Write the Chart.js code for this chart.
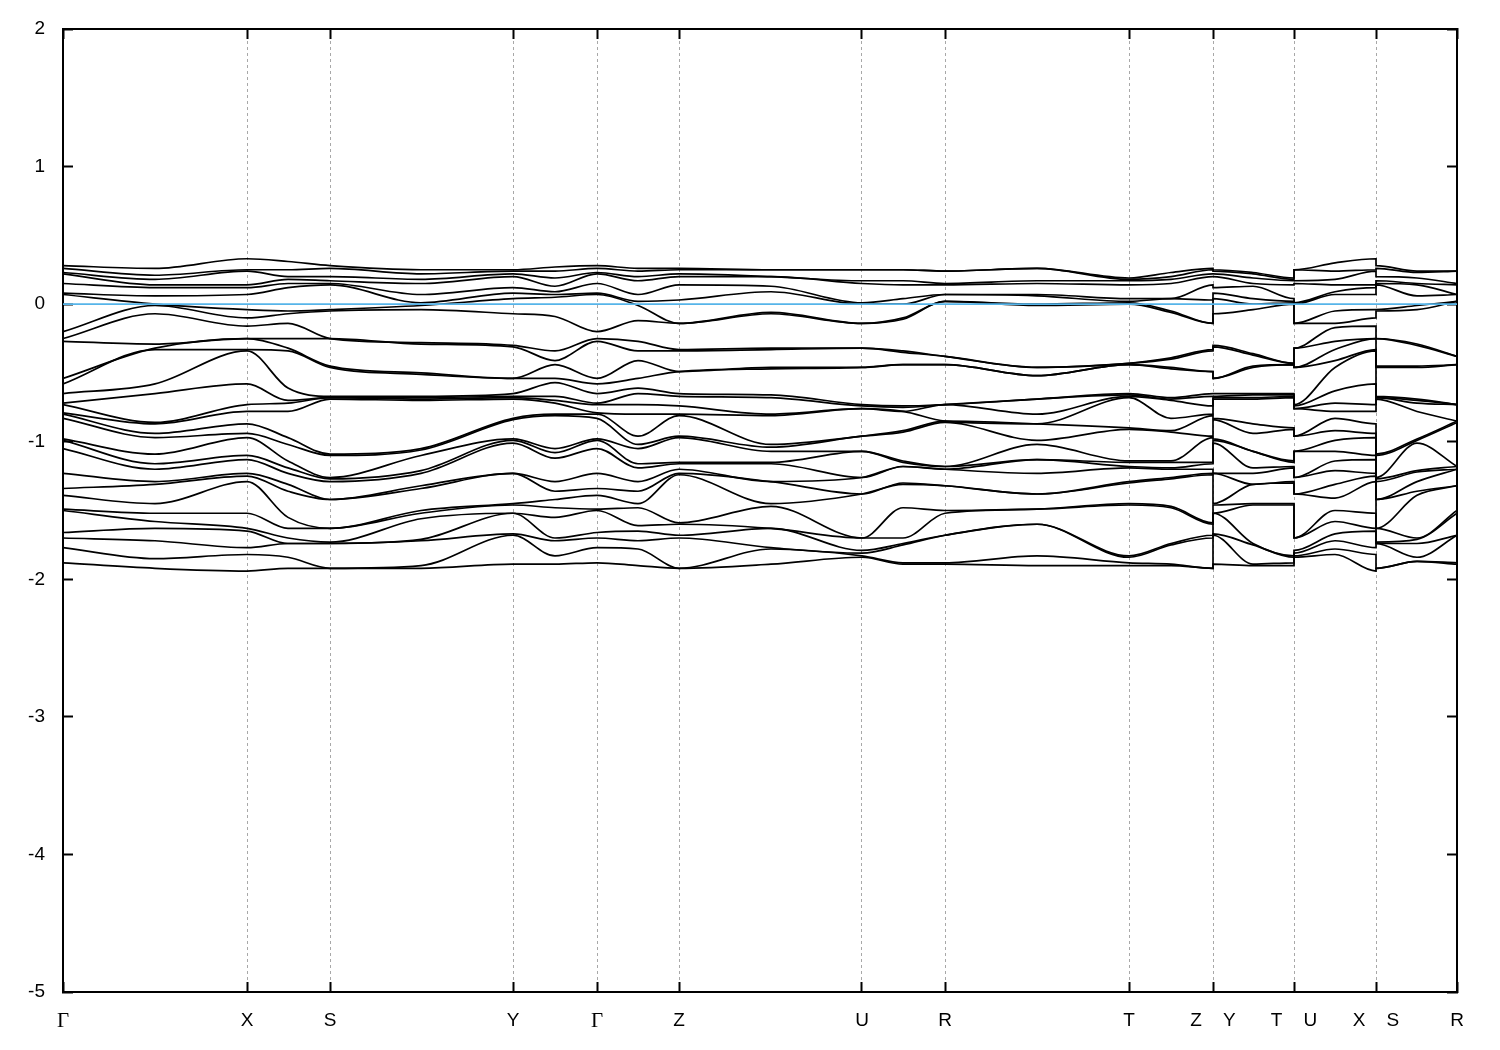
<!DOCTYPE html>
<html>
<head>
<meta charset="utf-8">
<script src="https://cdn.jsdelivr.net/npm/chart.js@4.4.1/dist/chart.umd.min.js"></script>
<style>
  html, body { margin: 0; padding: 0; background: #fff; }
  #wrap { width: 1500px; height: 1050px; }
</style>
</head>
<body>
<div id="wrap"><canvas id="bands" width="1500" height="1050"></canvas></div>
<script>
// k-path: positions of the high-symmetry points and their labels
const kTicks = [0, 184, 267, 450, 534, 616, 799, 882, 1066, 1150, 1231, 1313, 1394];
const kLabels = ["Γ", "X", "S", "Y", "Γ", "Z", "U", "R", "T", "Z    Y", "T    U", "X    S", "R"];
const yTicks = [2, 1, 0, -1, -2, -3, -4, -5];
const fermiLevel = 0;

// band energies (eV) read at each k node, highest first
const eG   = [0.28,0.26,0.23,0.22,0.15,0.08,0.07,-0.20,-0.25,-0.27,-0.54,-0.58,-0.65,-0.72,-0.73,-0.79,-0.80,-0.83,-0.98,-0.99,-1.05,-1.23,-1.34,-1.39,-1.49,-1.50,-1.66,-1.70,-1.77,-1.88];
const eGX  = [0.26,0.21,0.18,0.14,0.12,0.06,0.00,-0.01,-0.07,-0.29,-0.32,-0.33,-0.58,-0.65,-0.86,-0.87,-0.94,-0.97,-1.09,-1.16,-1.20,-1.29,-1.31,-1.45,-1.52,-1.58,-1.63,-1.72,-1.85,-1.92];
const eX   = [0.33,0.25,0.24,0.14,0.12,0.07,-0.04,-0.10,-0.16,-0.25,-0.25,-0.33,-0.34,-0.58,-0.73,-0.78,-0.87,-0.94,-0.97,-1.10,-1.13,-1.23,-1.25,-1.29,-1.52,-1.63,-1.65,-1.77,-1.82,-1.94];
const eXS  = [0.31,0.25,0.20,0.18,0.15,0.12,-0.05,-0.07,-0.14,-0.25,-0.32,-0.34,-0.61,-0.70,-0.72,-0.78,-0.97,-1.02,-1.14,-1.19,-1.23,-1.31,-1.36,-1.55,-1.63,-1.70,-1.74,-1.74,-1.84,-1.92];
const eS   = [0.28,0.26,0.20,0.17,0.15,0.14,-0.04,-0.05,-0.25,-0.25,-0.45,-0.46,-0.67,-0.68,-0.68,-0.69,-1.09,-1.10,-1.26,-1.27,-1.29,-1.42,-1.42,-1.63,-1.63,-1.73,-1.74,-1.74,-1.92,-1.92];
const eSY  = [0.25,0.22,0.18,0.15,0.07,0.01,-0.01,-0.04,-0.28,-0.29,-0.50,-0.51,-0.67,-0.68,-0.69,-0.70,-1.05,-1.06,-1.10,-1.21,-1.23,-1.32,-1.34,-1.50,-1.52,-1.56,-1.71,-1.72,-1.90,-1.92];
const eY   = [0.25,0.24,0.22,0.20,0.12,0.08,0.04,-0.07,-0.30,-0.31,-0.54,-0.54,-0.65,-0.67,-0.68,-0.69,-0.83,-0.84,-0.98,-0.99,-1.01,-1.23,-1.23,-1.45,-1.46,-1.52,-1.52,-1.67,-1.68,-1.89];
const eYG  = [0.27,0.24,0.19,0.13,0.09,0.07,0.05,-0.09,-0.34,-0.41,-0.44,-0.54,-0.57,-0.67,-0.70,-0.72,-0.80,-0.81,-1.05,-1.08,-1.12,-1.29,-1.36,-1.42,-1.48,-1.55,-1.70,-1.72,-1.83,-1.89];
const eGZ  = [0.26,0.24,0.20,0.17,0.07,0.02,-0.01,-0.12,-0.27,-0.34,-0.41,-0.54,-0.61,-0.65,-0.73,-0.80,-0.96,-1.02,-1.05,-1.16,-1.19,-1.29,-1.36,-1.45,-1.48,-1.61,-1.65,-1.72,-1.78,-1.90];
const eZ   = [0.26,0.25,0.22,0.20,0.14,0.03,-0.14,-0.14,-0.33,-0.34,-0.49,-0.49,-0.65,-0.67,-0.74,-0.80,-0.81,-0.96,-0.97,-1.15,-1.16,-1.20,-1.23,-1.24,-1.59,-1.60,-1.68,-1.70,-1.92,-1.92];
const eZU  = [0.25,0.25,0.20,0.20,0.13,0.09,-0.06,-0.07,-0.32,-0.33,-0.46,-0.47,-0.66,-0.68,-0.80,-0.81,-1.02,-1.04,-1.07,-1.15,-1.16,-1.29,-1.29,-1.45,-1.47,-1.63,-1.63,-1.77,-1.78,-1.89];
const eU   = [0.25,0.25,0.17,0.15,0.01,0.00,-0.14,-0.14,-0.32,-0.32,-0.46,-0.46,-0.73,-0.74,-0.76,-0.76,-0.96,-0.96,-1.07,-1.07,-1.26,-1.26,-1.38,-1.38,-1.70,-1.70,-1.79,-1.81,-1.83,-1.84];
const eUR  = [0.25,0.25,0.17,0.14,0.04,0.00,-0.10,-0.11,-0.34,-0.35,-0.44,-0.44,-0.74,-0.75,-0.78,-0.78,-0.92,-0.93,-1.14,-1.15,-1.18,-1.18,-1.30,-1.31,-1.48,-1.70,-1.74,-1.75,-1.88,-1.89];
const eR   = [0.24,0.24,0.15,0.14,0.07,0.07,0.02,0.02,-0.38,-0.38,-0.44,-0.44,-0.73,-0.73,-0.73,-0.85,-0.85,-0.86,-1.18,-1.18,-1.20,-1.20,-1.32,-1.32,-1.50,-1.52,-1.68,-1.68,-1.88,-1.89];
const eRT  = [0.26,0.26,0.17,0.15,0.07,0.06,0.00,-0.01,-0.46,-0.46,-0.52,-0.52,-0.69,-0.69,-0.80,-0.87,-0.87,-0.99,-1.02,-1.13,-1.13,-1.23,-1.38,-1.38,-1.49,-1.49,-1.60,-1.60,-1.83,-1.90];
const eT   = [0.19,0.18,0.17,0.14,0.04,0.02,0.01,0.00,-0.43,-0.43,-0.44,-0.44,-0.65,-0.66,-0.67,-0.68,-0.90,-0.91,-1.14,-1.15,-1.18,-1.19,-1.29,-1.30,-1.45,-1.46,-1.83,-1.84,-1.88,-1.90];
const eTZ  = [0.23,0.20,0.18,0.15,0.04,0.04,-0.05,-0.06,-0.39,-0.40,-0.46,-0.47,-0.68,-0.69,-0.70,-0.83,-0.92,-0.93,-1.14,-1.15,-1.19,-1.20,-1.26,-1.27,-1.47,-1.48,-1.74,-1.75,-1.89,-1.90];
const eYT  = [0.23,0.22,0.19,0.15,0.13,0.04,0.00,-0.04,-0.36,-0.37,-0.45,-0.46,-0.65,-0.66,-0.68,-0.69,-0.87,-0.94,-1.07,-1.07,-1.19,-1.23,-1.31,-1.31,-1.45,-1.46,-1.74,-1.75,-1.89,-1.90];
const eUX  = [0.30,0.24,0.18,0.14,0.09,0.07,-0.05,-0.14,-0.17,-0.27,-0.33,-0.41,-0.46,-0.63,-0.72,-0.78,-0.83,-0.92,-0.99,-1.07,-1.14,-1.21,-1.31,-1.41,-1.50,-1.58,-1.67,-1.72,-1.78,-1.82];
const eSR  = [0.24,0.23,0.19,0.15,0.14,0.06,-0.01,-0.04,-0.29,-0.30,-0.45,-0.46,-0.69,-0.70,-0.72,-0.78,-0.98,-0.99,-1.01,-1.21,-1.22,-1.29,-1.36,-1.39,-1.70,-1.71,-1.74,-1.84,-1.87,-1.87];

// path nodes: distance along the path and which column of energies sits there
const kNodes = [0, 92, 184, 225, 267, 358, 450, 492, 534, 575, 616, 708, 799, 840, 882, 974, 1066, 1108, 1150, 1150, 1190, 1231, 1231, 1272, 1313, 1313, 1354, 1394];
const kColumns = [eG, eGX, eX, eXS, eS, eSY, eY, eYG, eG, eGZ, eZ, eZU, eU, eUR, eR, eRT, eT, eTZ, eZ, eY, eYT, eT, eU, eUX, eX, eS, eSR, eR];

const nBands = eG.length;
const datasets = [];

// Fermi level, drawn on top
datasets.push({
  data: [{ x: kTicks[0], y: fermiLevel }, { x: kTicks[kTicks.length - 1], y: fermiLevel }],
  borderColor: "#56b4e9",
  borderWidth: 1.6,
  pointRadius: 0,
  tension: 0,
});

for (let b = 0; b < nBands; b++) {
  datasets.push({
    data: kNodes.map((k, j) => ({ x: k, y: kColumns[j][b] })),
    borderColor: "#000",
    borderWidth: 1.7,
    pointRadius: 0,
    cubicInterpolationMode: "monotone",
  });
}

const sans = "'Liberation Sans', Arial, sans-serif";
const serif = "'Liberation Serif', 'Times New Roman', serif";

const setKTicks = (scale) => {
  scale.ticks = kTicks.map((v) => ({ value: v }));
};
const noPadX = (s, h) => { s.height = h; s.paddingLeft = 0; s.paddingRight = 0; };
const noPadY = (s, w) => { s.width = w; s.paddingTop = 0; s.paddingBottom = 0; };

new Chart(document.getElementById("bands"), {
  type: "line",
  data: { datasets },
  options: {
    responsive: false,
    animation: false,
    events: [],
    plugins: { legend: { display: false }, tooltip: { enabled: false } },
    layout: { padding: 0 },
    scales: {
      x: {
        type: "linear",
        position: "bottom",
        min: kTicks[0],
        max: kTicks[kTicks.length - 1],
        afterBuildTicks: setKTicks,
        afterFit: (s) => noPadX(s, 58),
        grid: {
          color: "#a8a8a8",
          lineWidth: 1,
          borderDash: [3, 3],
          tickLength: -10,
          tickColor: "#000",
          tickWidth: 2,
          tickBorderDash: [],
        },
        border: { color: "#000", width: 2, dash: [3, 3] },
        ticks: {
          padding: 27,
          maxRotation: 0,
          autoSkip: false,
          color: "#000",
          font: (ctx) => (ctx.tick && ctx.tick.label === "Γ"
            ? { family: serif, size: 21 }
            : { family: sans, size: 19 }),
          callback: (v, i) => kLabels[i],
        },
      },
      x2: {
        type: "linear",
        position: "top",
        min: kTicks[0],
        max: kTicks[kTicks.length - 1],
        afterBuildTicks: setKTicks,
        afterFit: (s) => noPadX(s, 29),
        grid: { drawOnChartArea: false, tickLength: -10, tickColor: "#000", tickWidth: 2 },
        border: { color: "#000", width: 2 },
        ticks: { display: false },
      },
      y: {
        type: "linear",
        position: "left",
        min: -5,
        max: 2,
        afterBuildTicks: (s) => { s.ticks = yTicks.map((v) => ({ value: v })); },
        afterFit: (s) => noPadY(s, 63),
        grid: { drawOnChartArea: false, tickLength: -10, tickColor: "#000", tickWidth: 2 },
        border: { color: "#000", width: 2 },
        ticks: { padding: 28, color: "#000", font: { family: sans, size: 19 } },
      },
      y2: {
        type: "linear",
        position: "right",
        min: -5,
        max: 2,
        afterBuildTicks: (s) => { s.ticks = yTicks.map((v) => ({ value: v })); },
        afterFit: (s) => noPadY(s, 43),
        grid: { drawOnChartArea: false, tickLength: -10, tickColor: "#000", tickWidth: 2 },
        border: { color: "#000", width: 2 },
        ticks: { display: false },
      },
    },
  },
});
</script>
</body>
</html>
